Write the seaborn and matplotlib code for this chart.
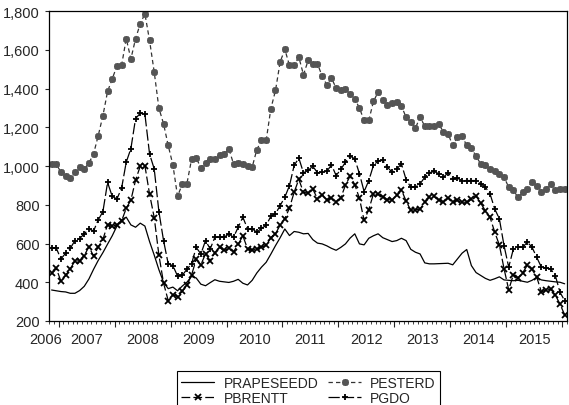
import numpy as np
import pandas as pd
import matplotlib
matplotlib.use("Agg")
import matplotlib.pyplot as plt
import seaborn as sns

# ---- data (monthly, Nov 2006 .. Jan 2016) ----
start_month = "2006-11"
prapeseedd = [360, 356, 352, 350, 343, 343, 357, 379, 417, 467,
              513, 553, 597, 640, 690, 722, 736, 696, 684, 705,
              690, 610, 540, 465, 400, 367, 375, 356, 380, 400,
              430, 422, 390, 382, 398, 413, 405, 402, 399, 405,
              415, 395, 386, 410, 448, 478, 503, 545, 589, 630,
              675, 641, 662, 658, 650, 652, 620, 602, 598, 588,
              575, 565, 580, 598, 628, 650, 598, 593, 627, 640,
              650, 630, 620, 610, 615, 627, 615, 570, 555, 546,
              500, 495, 495, 496, 497, 498, 490, 520, 550, 569,
              486, 450, 435, 420, 410, 418, 428, 412, 410, 408,
              410, 405, 400, 410, 425, 412, 408, 405, 402, 400, 392]
pesterd = [1010, 1010, 968, 946, 939, 968, 994, 985, 1015, 1063,
           1157, 1260, 1385, 1450, 1516, 1519, 1657, 1553, 1657, 1734,
           1786, 1648, 1485, 1299, 1218, 1106, 1006, 844, 905, 908,
           1034, 1041, 992, 1016, 1037, 1037, 1058, 1063, 1089, 1011,
           1016, 1011, 998, 994, 1085, 1132, 1132, 1295, 1390, 1537,
           1602, 1519, 1519, 1562, 1471, 1545, 1528, 1528, 1464, 1419,
           1454, 1402, 1390, 1399, 1373, 1347, 1299, 1235, 1235, 1333,
           1382, 1339, 1316, 1326, 1330, 1309, 1252, 1227, 1196, 1252,
           1206, 1206, 1204, 1218, 1175, 1166, 1106, 1149, 1154, 1106,
           1092, 1051, 1011, 1006, 985, 972, 960, 942, 891, 874,
           839, 865, 882, 920, 899, 868, 882, 908, 874, 882, 882]
pbrentt = [446, 472, 405, 435, 469, 510, 510, 538, 583, 535,
           582, 621, 698, 691, 696, 716, 782, 824, 927, 999,
           1002, 855, 734, 541, 396, 305, 335, 326, 353, 384,
           437, 518, 490, 547, 511, 553, 581, 564, 575, 557,
           595, 640, 573, 565, 571, 582, 590, 630, 650, 695,
           729, 783, 865, 931, 864, 860, 881, 831, 852, 827,
           834, 815, 836, 901, 948, 904, 833, 719, 775, 856,
           853, 842, 827, 824, 848, 877, 819, 772, 775, 777,
           815, 840, 843, 824, 814, 837, 816, 822, 812, 814,
           828, 845, 808, 769, 735, 659, 592, 470, 361, 439,
           422, 449, 488, 466, 427, 351, 359, 365, 334, 287, 232]
pgdo = [576, 576, 520, 550, 575, 615, 625, 650, 675, 665,
        722, 765, 915, 843, 830, 885, 1020, 1090, 1245, 1272,
        1268, 1062, 985, 765, 615, 495, 486, 432, 435, 467,
        495, 580, 546, 615, 572, 632, 632, 632, 650, 632,
        684, 736, 676, 676, 658, 679, 693, 741, 753, 796,
        839, 899, 1003, 1041, 965, 977, 999, 965, 968, 972,
        1006, 951, 982, 1020, 1051, 1037, 960, 868, 925, 1003,
        1027, 1029, 994, 968, 985, 1011, 930, 891, 891, 908,
        942, 965, 972, 960, 942, 965, 934, 937, 925, 925,
        925, 925, 908, 891, 856, 779, 727, 589, 478, 572,
        581, 581, 607, 581, 529, 478, 474, 469, 434, 348, 305]
year_labels = ["2006", "2007", "2008", "2009", "2010",
               "2011", "2012", "2013", "2014", "2015"]
y_ticks = [200, 400, 600, 800, 1000, 1200, 1400, 1600, 1800]

sns.set_style("ticks")
plt.rcParams["font.family"] = ["Liberation Sans", "DejaVu Sans"]

months = pd.period_range(start_month, periods=len(pgdo), freq="M")
obs = np.arange(len(months))
df = pd.DataFrame({"obs": obs, "PRAPESEEDD": prapeseedd, "PESTERD": pesterd,
                   "PBRENTT": pbrentt, "PGDO": pgdo})

fig = plt.figure(figsize=(5.69, 4.06), dpi=100)
ax = fig.add_axes([0.0866, 0.2069, 0.9099, 0.7635])

common = dict(ax=ax, x="obs", estimator=None, errorbar=None, legend=False)
sns.lineplot(data=df, y="PRAPESEEDD", color="black", lw=0.9,
             label="PRAPESEEDD", **common)
sns.lineplot(data=df, y="PESTERD", color="#333333", lw=0.9,
             linestyle=(0, (3.5, 2.5)), marker=(8, 2, 0), markersize=5,
             markeredgewidth=1.3, markeredgecolor="#555555",
             markerfacecolor="#555555", label="PESTERD", **common)
sns.lineplot(data=df, y="PBRENTT", color="black", lw=0.9,
             linestyle=(0, (7, 2.5)), marker="x", markersize=4.5,
             markeredgewidth=1.3, markeredgecolor="black",
             label="PBRENTT", **common)
sns.lineplot(data=df, y="PGDO", color="black", lw=0.9,
             linestyle=(0, (9, 2.5)), marker="+", markersize=5,
             markeredgewidth=1.3, markeredgecolor="black",
             label="PGDO", **common)

n = len(months)
ax.set_xlim(-0.5, n - 0.5)
ax.set_ylim(200, 1800)
ax.set_xlabel("")
ax.set_ylabel("")

# year boundary ticks (major) and month ticks (minor)
jan_idx = [i for i, p in enumerate(months) if p.month == 1]
ax.set_xticks([i - 0.5 for i in jan_idx])
ax.set_xticklabels([])
ax.set_xticks(np.arange(-0.5, n, 1.0), minor=True)
ax.tick_params(axis="x", which="major", direction="out", length=4.5, width=0.8)
ax.tick_params(axis="x", which="minor", direction="out", length=2.2, width=0.6)

ax.set_yticks(y_ticks)
ax.set_yticklabels([f"{v:,}" for v in y_ticks])
ax.tick_params(axis="y", direction="out", length=3, width=0.8, pad=4,
               labelsize=10.5)
for s in ax.spines.values():
    s.set_visible(True)
    s.set_color("black")
    s.set_linewidth(0.9)

# year labels centred in each year's span
label_pos = [-1.2] + [i + 5.5 for i in jan_idx if months[i].year <= 2015]
for lbl, xp in zip(year_labels, label_pos):
    ax.annotate(lbl, xy=(xp, 0), xycoords=("data", "axes fraction"),
                xytext=(0, -13), textcoords="offset points",
                ha="center", va="center", fontsize=10.5,
                annotation_clip=False)

handles, labels = ax.get_legend_handles_labels()
hmap = dict(zip(labels, handles))
order = ["PRAPESEEDD", "PBRENTT", "PESTERD", "PGDO"]
leg = ax.legend([hmap[k] for k in order], order, loc="upper center",
                bbox_to_anchor=(0.542, 0.1), bbox_transform=fig.transFigure,
                ncol=2, fontsize=10, frameon=True, fancybox=False,
                edgecolor="black", framealpha=1, handlelength=2.4,
                handletextpad=0.65, columnspacing=0.7, borderpad=0.3,
                labelspacing=0.1)
leg.get_frame().set_linewidth(0.8)

fig.savefig("out.png", dpi=100)
